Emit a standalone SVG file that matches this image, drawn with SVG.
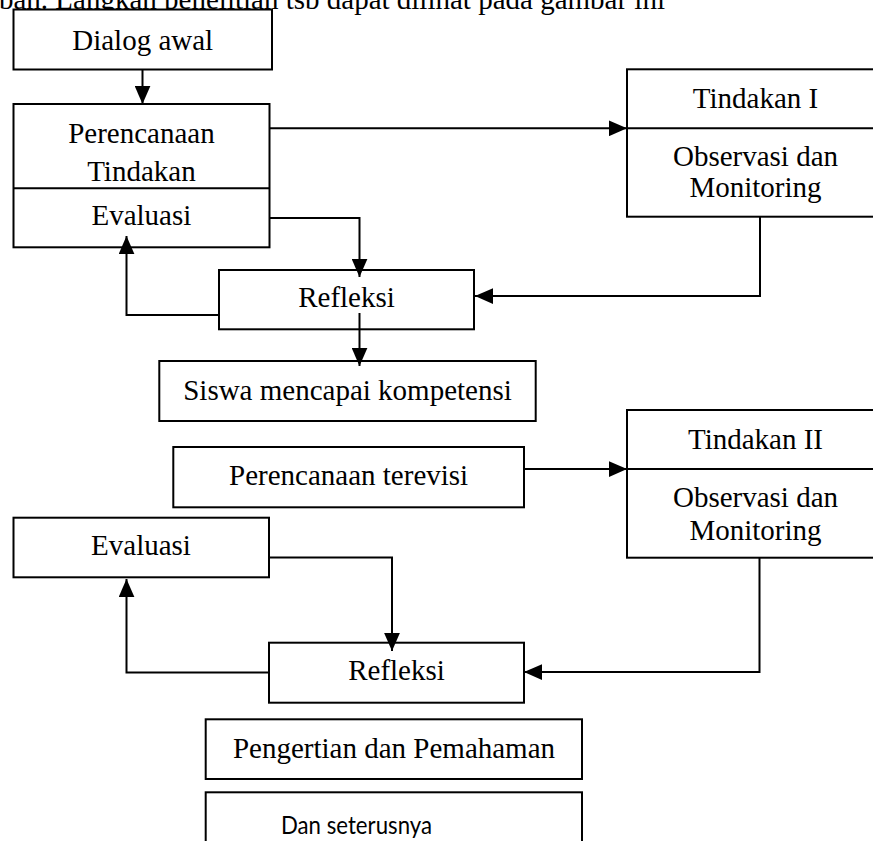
<svg xmlns="http://www.w3.org/2000/svg" width="873" height="841" viewBox="0 0 873 841">
<style>
.box{fill:#fff;stroke:#000;stroke-width:2}
.div{stroke:#000;stroke-width:2}
.t{font-family:"Liberation Serif","Times New Roman",serif;font-size:29px;fill:#000;text-anchor:middle}
.s{font-family:"Lato","Liberation Sans",sans-serif;font-size:25px;fill:#000}
.c{fill:none;stroke:#000;stroke-width:2}
.ca{fill:none;stroke:#000;stroke-width:2;marker-end:url(#ah)}
</style>
<defs>
<marker id="ah" markerUnits="userSpaceOnUse" markerWidth="18" markerHeight="16" viewBox="0 0 16 14" refX="16" refY="7" orient="auto">
<path d="M0,0 L16,7 L0,14 Z" fill="#000"/>
</marker>
</defs>
<rect width="873" height="841" fill="#fff"/>
<text x="-1" y="9" class="t" style="text-anchor:start">bah. Langkah penelitian tsb dapat dilihat pada gambar ini</text>

<g id="connectors">
<path class="ca" d="M142.5,57 V104"/>
<path class="ca" d="M269,128.3 H627"/>
<path class="ca" d="M269,218 H359.5 V277"/>
<path class="ca" d="M219,315 H126.5 V236"/>
<path class="ca" d="M760,217 V296 H475"/>
<path class="ca" d="M359.5,313 V366"/>
<path class="ca" d="M524,469 H627"/>
<path class="ca" d="M269,557.5 H392 V651"/>
<path class="ca" d="M269,672.5 H126.5 V579"/>
<path class="ca" d="M759.5,558 V672 H524"/>
</g>

<g id="dialog">
<rect class="box" x="13.5" y="9.5" width="258.5" height="60"/>
<text class="t" x="142.7" y="49.5">Dialog awal</text>
</g>
<g id="perencanaan">
<rect class="box" x="13.5" y="104" width="256" height="143.3" style="fill:none"/>
<line class="div" x1="13.5" y1="188.3" x2="269.5" y2="188.3"/>
<text class="t" x="141.4" y="142.7">Perencanaan</text>
<text class="t" x="141.4" y="181">Tindakan</text>
<text class="t" x="141.4" y="225">Evaluasi</text>
</g>
<g id="tindakan1">
<rect class="box" x="627" y="69.3" width="258" height="147.4"/>
<line class="div" x1="627" y1="128.3" x2="873" y2="128.3"/>
<text class="t" x="755.5" y="108">Tindakan I</text>
<text class="t" x="755.5" y="166">Observasi dan</text>
<text class="t" x="755.5" y="197">Monitoring</text>
</g>
<g id="refleksi1">
<rect class="box" x="219" y="270" width="255" height="59.3" style="fill:none"/>
<text class="t" x="346.5" y="307">Refleksi</text>
</g>
<g id="siswa">
<rect class="box" x="159.3" y="361" width="376.4" height="60" style="fill:none"/>
<text class="t" x="347.5" y="400">Siswa mencapai kompetensi</text>
</g>
<g id="terevisi">
<rect class="box" x="173.3" y="447" width="350.7" height="60.3"/>
<text class="t" x="348.6" y="485">Perencanaan terevisi</text>
</g>
<g id="tindakan2">
<rect class="box" x="627" y="410" width="258" height="147.7"/>
<line class="div" x1="627" y1="469" x2="873" y2="469"/>
<text class="t" x="755.5" y="449">Tindakan II</text>
<text class="t" x="755.5" y="507">Observasi dan</text>
<text class="t" x="755.5" y="540">Monitoring</text>
</g>
<g id="evaluasi2">
<rect class="box" x="13.5" y="517.7" width="255.5" height="59.6" style="fill:none"/>
<text class="t" x="141" y="555">Evaluasi</text>
</g>
<g id="refleksi2">
<rect class="box" x="269" y="642.7" width="255" height="60" style="fill:none"/>
<text class="t" x="396.5" y="680">Refleksi</text>
</g>
<g id="pengertian">
<rect class="box" x="205.7" y="719.3" width="376.3" height="59.7"/>
<text class="t" x="394" y="758">Pengertian dan Pemahaman</text>
</g>
<g id="seterusnya">
<rect class="box" x="205.7" y="792.3" width="376.3" height="60"/>
<text class="s" x="281" y="834" textLength="151" lengthAdjust="spacingAndGlyphs">Dan seterusnya</text>
</g>
</svg>
